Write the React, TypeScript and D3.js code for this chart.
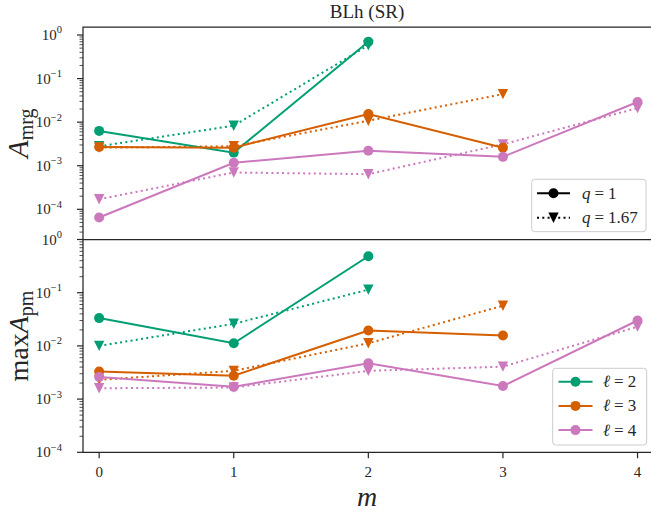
import React from "react";
import * as d3 from "d3";

// ---- data ----
const mValues = [0, 1, 2, 3, 4];
const ells = ["2", "3", "4"];
const colors = ["#029e73", "#d55e00", "#cc78bc"];
const qLabels = ["1", "1.67"];

// top panel: A_mrg ; arrays over m
const amrgQ1_l2 = [6.3e-3, 2.0e-3, 0.70];
const amrgQ1_l3 = [2.7e-3, 2.6e-3, 0.0154, 2.6e-3];
const amrgQ1_l4 = [6.5e-5, 1.17e-3, 2.2e-3, 1.6e-3, 0.029];
const amrgQ167_l2 = [2.8e-3, 8.3e-3, 0.58];
const amrgQ167_l3 = [2.6e-3, 2.8e-3, 0.0108, 0.044];
const amrgQ167_l4 = [1.7e-4, 7.0e-4, 6.4e-4, 3.1e-3, 0.021];

// bottom panel: max A_pm
const apmQ1_l2 = [0.0333, 0.0112, 0.485];
const apmQ1_l3 = [3.3e-3, 2.75e-3, 0.0195, 0.0157];
const apmQ1_l4 = [2.6e-3, 1.7e-3, 4.7e-3, 1.76e-3, 0.030];
const apmQ167_l2 = [0.0100, 0.026, 0.114];
const apmQ167_l3 = [2.3e-3, 3.4e-3, 0.0112, 0.057];
const apmQ167_l4 = [1.6e-3, 1.65e-3, 3.4e-3, 4.07e-3, 0.023];

const topTickExps = [0, -1, -2, -3, -4];
const botTickExps = [0, -1, -2, -3, -4];

const FONT = '"Liberation Serif", "DejaVu Serif", "Times New Roman", serif';
const AX = "#262626";

const W = 651, H = 514;
const L = 83, R = 651;
const topY0 = 27, topY1 = 239.5;
const botY0 = 239.5, botY1 = 452.3;

const x = d3.scaleLinear().domain([-0.12, 4.1]).range([L, R]);
const yTop = d3.scaleLog().domain([2.03e-5, 1.526]).range([topY1, topY0]);
const yBot = d3.scaleLog().domain([1e-4, 1]).range([botY1, botY0]);

function tri(cx: number, cy: number, r: number) {
  return `M${cx - r},${cy - r}L${cx + r},${cy - r}L${cx},${cy + r}Z`;
}

function Series({ vals, y, color, dotted }: { vals: number[]; y: any; color: string; dotted: boolean }) {
  const line = d3.line<number>().x((_, i) => x(mValues[i])).y((v) => y(v));
  return (
    <g>
      <path d={line(vals) || ""} fill="none" stroke={color} strokeWidth={2}
        strokeDasharray={dotted ? "2,3.3" : undefined} />
      {vals.map((v, i) =>
        dotted ? (
          <path key={i} d={tri(x(mValues[i]), y(v), 5.2)} fill={color} />
        ) : (
          <circle key={i} cx={x(mValues[i])} cy={y(v)} r={5} fill={color} />
        )
      )}
    </g>
  );
}

function YAxis({ y, exps }: { y: any; exps: number[] }) {
  const [lo, hi] = y.domain();
  const minors: number[] = [];
  for (let e = Math.floor(Math.log10(lo)); e <= Math.ceil(Math.log10(hi)); e++) {
    for (let k = 2; k <= 9; k++) {
      const v = k * Math.pow(10, e);
      if (v >= lo && v <= hi) minors.push(v);
    }
  }
  return (
    <g>
      {minors.map((v, i) => (
        <line key={"m" + i} x1={L - 3.5} x2={L} y1={y(v)} y2={y(v)} stroke={AX} strokeWidth={0.8} />
      ))}
      {exps.map((e) => {
        const yy = y(Math.pow(10, e));
        return (
          <g key={e}>
            <line x1={L - 6} x2={L} y1={yy} y2={yy} stroke={AX} strokeWidth={1.2} />
            <text x={62} y={yy + 5} textAnchor="end" style={{ fontFamily: FONT, fontSize: 15 }} fill={AX}>
              10<tspan dy={-6.5} style={{ fontSize: 10.5 }}>{e === 0 ? "0" : "\u2212" + Math.abs(e)}</tspan>
            </text>
          </g>
        );
      })}
    </g>
  );
}

export default function App() {
  const topSeries = [
    [amrgQ1_l2, amrgQ1_l3, amrgQ1_l4],
    [amrgQ167_l2, amrgQ167_l3, amrgQ167_l4],
  ];
  const botSeries = [
    [apmQ1_l2, apmQ1_l3, apmQ1_l4],
    [apmQ167_l2, apmQ167_l3, apmQ167_l4],
  ];
  return (
    <svg width={W} height={H} style={{ position: "absolute", left: 0, top: 0, background: "#fff", fontFamily: FONT }}>
      <rect width={W} height={H} fill="#fff" />
      <text x={(L + R) / 2} y={18} textAnchor="middle" style={{ fontFamily: FONT, fontSize: 19 }} fill={AX}>BLh (SR)</text>

      {[1, 0].map((qi) =>
        topSeries[qi].map((vals, li) => (
          <Series key={`t${qi}${li}`} vals={vals} y={yTop} color={colors[li]} dotted={qi === 1} />
        ))
      )}
      {[1, 0].map((qi) =>
        botSeries[qi].map((vals, li) => (
          <Series key={`b${qi}${li}`} vals={vals} y={yBot} color={colors[li]} dotted={qi === 1} />
        ))
      )}

      <path d={`M${R + 5},${topY0}H${L}V${topY1}H${R + 5}`} fill="none" stroke={AX} strokeWidth={1.25} />
      <path d={`M${L},${botY0}V${botY1}H${R + 5}`} fill="none" stroke={AX} strokeWidth={1.25} />

      <YAxis y={yTop} exps={topTickExps} />
      <YAxis y={yBot} exps={botTickExps} />

      {mValues.map((m) => (
        <g key={m}>
          <line x1={x(m)} x2={x(m)} y1={botY1} y2={botY1 + 6} stroke={AX} strokeWidth={1.2} />
          <text x={x(m)} y={477} textAnchor="middle" style={{ fontFamily: FONT, fontSize: 15 }} fill={AX}>{m}</text>
        </g>
      ))}
      <text x={(L + R) / 2} y={506} textAnchor="middle" style={{ fontFamily: FONT, fontSize: 28, fontStyle: "italic" }} fill={AX}>m</text>

      <text transform={`translate(28,${(topY0 + topY1) / 2}) rotate(-90)`} textAnchor="middle" style={{ fontFamily: FONT, fontSize: 29 }} fill={AX}>
        <tspan style={{ fontStyle: "italic" }}>A</tspan>
        <tspan style={{ fontSize: 20 }} dy={5}>mrg</tspan>
      </text>
      <text transform={`translate(28,336) rotate(-90)`} textAnchor="middle" style={{ fontFamily: FONT, fontSize: 28 }} fill={AX}>
        <tspan>max</tspan>
        <tspan style={{ fontStyle: "italic" }}>A</tspan>
        <tspan style={{ fontSize: 20 }} dy={5}>pm</tspan>
      </text>

      <rect x={531.7} y={179.3} width={114.3} height={52.4} rx={3} fill="#fff" fillOpacity={0.8} stroke="#cccccc" strokeWidth={1} />
      {qLabels.map((q, i) => {
        const yy = 193.3 + i * 24.4;
        return (
          <g key={q}>
            <line x1={537} x2={570} y1={yy} y2={yy} stroke="#000" strokeWidth={2} strokeDasharray={i === 1 ? "2,3.3" : undefined} />
            {i === 0 ? <circle cx={553.5} cy={yy} r={5} fill="#000" /> : <path d={tri(553.5, yy, 5.2)} fill="#000" />}
            <text x={582} y={yy + 5.5} style={{ fontFamily: FONT, fontSize: 17 }} fill={AX}>
              <tspan style={{ fontStyle: "italic" }}>q</tspan>
              <tspan dx={4}>=</tspan>
              <tspan dx={4}>{q}</tspan>
            </text>
          </g>
        );
      })}

      <rect x={552.7} y={368.3} width={94} height={76.7} rx={3} fill="#fff" fillOpacity={0.8} stroke="#cccccc" strokeWidth={1} />
      {ells.map((l, i) => {
        const yy = 381.7 + i * 24.2;
        return (
          <g key={l}>
            <line x1={558.5} x2={592.5} y1={yy} y2={yy} stroke={colors[i]} strokeWidth={2} />
            <circle cx={575.5} cy={yy} r={5} fill={colors[i]} />
            <text x={603} y={yy + 5.5} style={{ fontFamily: FONT, fontSize: 17 }} fill={AX}>
              <tspan style={{ fontStyle: "italic" }}>ℓ</tspan>
              <tspan dx={4}>=</tspan>
              <tspan dx={4}>{l}</tspan>
            </text>
          </g>
        );
      })}
    </svg>
  );
}
